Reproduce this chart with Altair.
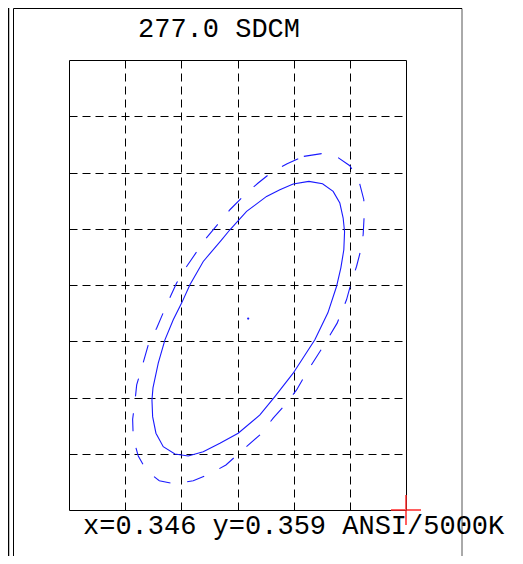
import altair as alt
import pandas as pd

# ellipse vertices in grid units (1 unit = one grid cell)
solid_x = [4.270, 4.514, 4.703, 4.822, 4.881, 4.906, 4.893, 4.840, 4.763, 4.609, 4.377, 3.991,
           3.665, 3.399, 3.012, 2.687, 2.390, 2.123, 1.886, 1.678, 1.548, 1.489, 1.477, 1.495,
           1.589, 1.708, 1.856, 2.005, 2.153, 2.390, 2.717, 2.865, 3.162, 3.518, 3.754, 3.991]
solid_y = [5.842, 5.801, 5.664, 5.457, 5.190, 4.947, 4.626, 4.306, 3.973, 3.505, 3.025, 2.432,
           2.016, 1.690, 1.365, 1.187, 1.037, 0.961, 0.996, 1.126, 1.365, 1.660, 1.957, 2.171,
           2.610, 3.025, 3.381, 3.678, 4.004, 4.418, 4.804, 4.982, 5.308, 5.575, 5.694, 5.795]

dash_x = [4.181, 4.496, 4.774, 5.000, 5.165, 5.249, 5.254, 5.237, 5.187, 5.119, 5.030, 4.941,
          4.774, 4.525, 4.258, 4.052, 3.874, 3.635, 3.399, 3.012, 2.794, 2.509, 2.212, 1.886,
          1.607, 1.383, 1.233, 1.144, 1.133, 1.174, 1.205, 1.276, 1.411, 1.560, 1.738, 1.916,
          2.094, 2.420, 2.865, 3.162, 3.368, 3.589, 3.884]
dash_y = [6.286, 6.335, 6.276, 6.121, 5.842, 5.516, 5.208, 4.893, 4.591, 4.329, 4.062, 3.737,
          3.322, 2.906, 2.491, 2.135, 1.899, 1.632, 1.335, 0.996, 0.801, 0.641, 0.521, 0.463,
          0.521, 0.694, 0.961, 1.276, 1.614, 1.927, 2.224, 2.461, 2.936, 3.233, 3.648, 4.034,
          4.329, 4.804, 5.338, 5.635, 5.813, 5.991, 6.157]

center_x = [3.190]
center_y = [3.404]
cross_x = [6.0]
cross_y = [0.0]

title_text = "277.0 SDCM"
info_text = "x=0.346 y=0.359 ANSI/5000K"

x_grid = [1, 2, 3, 4, 5]
y_grid = [1, 2, 3, 4, 5, 6, 7]

W, H = 337, 450
FONT = "Liberation Mono"
BLUE = "#1a1aff"

def closed(xs, ys):
    return pd.DataFrame({"x": xs + xs[:1], "y": ys + ys[:1], "i": list(range(len(xs) + 1))})

xs = alt.Scale(domain=[0, 6], nice=False, zero=False)
ys = alt.Scale(domain=[0, 8], nice=False, zero=False)
xax = alt.Axis(values=x_grid, grid=True, labels=False, ticks=False, domain=False, title=None,
               gridColor="black", gridDash=[8, 5], gridOpacity=1, gridWidth=1)
yax = alt.Axis(values=y_grid, grid=True, labels=False, ticks=False, domain=False, title=None,
               gridColor="black", gridDash=[8, 5], gridOpacity=1, gridWidth=1)

solid = alt.Chart(closed(solid_x, solid_y)).mark_line(color=BLUE, strokeWidth=1.1).encode(
    x=alt.X("x:Q", scale=xs, axis=xax),
    y=alt.Y("y:Q", scale=ys, axis=yax),
    order="i:Q",
)
dashed = alt.Chart(closed(dash_x, dash_y)).mark_line(color=BLUE, strokeWidth=1.1, strokeDash=[18, 17]).encode(
    x=alt.X("x:Q", scale=xs), y=alt.Y("y:Q", scale=ys), order="i:Q"
)
center = alt.Chart(pd.DataFrame({"x": center_x, "y": center_y})).mark_point(
    filled=True, color=BLUE, size=5, opacity=1
).encode(x=alt.X("x:Q", scale=xs), y=alt.Y("y:Q", scale=ys))

cross = alt.Chart(pd.DataFrame({"x": cross_x, "y": cross_y})).mark_point(
    shape="M-1,0L1,0M0,-1L0,1", size=900, color="#ff2a2a", strokeWidth=2, opacity=0.75, filled=False
).encode(x=alt.X("x:Q", scale=xs), y=alt.Y("y:Q", scale=ys))

one = pd.DataFrame({"a": [0]})
frame_left = alt.Chart(one).mark_rule(color="black", strokeWidth=1).encode(
    x=alt.value(-55.5), y=alt.value(-51.5), y2=alt.value(H + 46))
frame_far = alt.Chart(one).mark_rule(color="black", strokeWidth=1.5).encode(
    x=alt.value(-60.5), y=alt.value(-52), y2=alt.value(H + 46))
frame_right = alt.Chart(one).mark_rule(color="#555555", strokeWidth=1).encode(
    x=alt.value(393), y=alt.value(-51.5), y2=alt.value(H + 46))
frame_top = alt.Chart(one).mark_rule(color="black", strokeWidth=1).encode(
    x=alt.value(-55.5), x2=alt.value(393), y=alt.value(-51.5))

title = alt.Chart(pd.DataFrame({"t": [title_text]})).mark_text(
    font=FONT, fontSize=27, color="black", align="center", baseline="alphabetic"
).encode(text="t:N", x=alt.value(150), y=alt.value(-23))
info = alt.Chart(pd.DataFrame({"t": [info_text]})).mark_text(
    font=FONT, fontSize=27, color="black", align="left", baseline="alphabetic"
).encode(text="t:N", x=alt.value(14), y=alt.value(H + 24))

chart = alt.layer(
    solid, dashed, center, frame_left, frame_far, frame_right, frame_top, title, info, cross
).properties(
    width=W, height=H,
    background="white",
    autosize=alt.AutoSizeParams(type="none"),
    padding={"left": 61, "top": 52, "right": 109, "bottom": 46},
).configure_view(stroke="black", strokeWidth=1)

chart.save("out.html", embed_options={"renderer": "svg", "actions": False})
